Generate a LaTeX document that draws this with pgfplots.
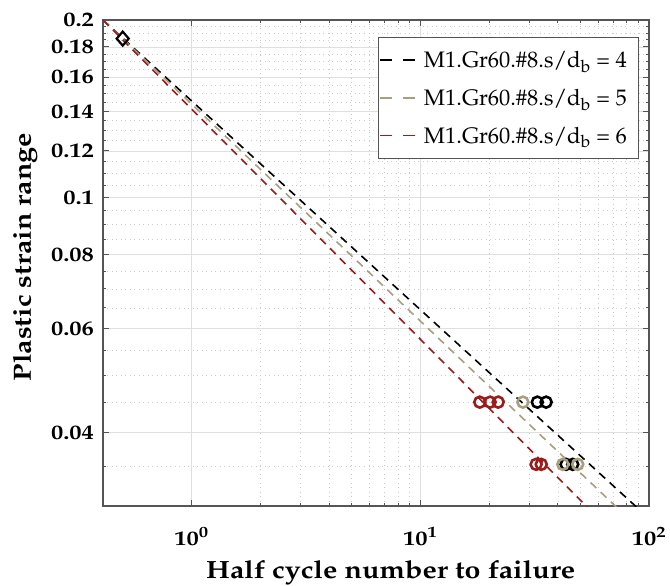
\documentclass[border=0pt]{standalone}
\usepackage[T1]{fontenc}
\usepackage{mathpazo}
\usepackage{graphicx}
\usepackage{pgfplots}
\pgfplotsset{compat=1.18}
\definecolor{ctan}{RGB}{168,158,128}
\definecolor{cred}{RGB}{155,28,28}
\definecolor{axgray}{RGB}{85,85,85}
\newcommand{\tl}[1]{\scalebox{1.2}[1]{\bfseries\boldmath #1}}
\newcommand{\bl}[1]{\scalebox{1.15}[1]{\bfseries #1}}
\begin{document}
\begin{tikzpicture}
\begin{axis}[
  at={(0,0)}, anchor=south west, scale only axis,
  width=546bp, height=486bp,
  xmode=log, ymode=log,
  xmin=0.41, xmax=100, ymin=0.03, ymax=0.2,
  xtick={1,10,100},
  xticklabel={\tl{10$^{\ifcase\ticknum\relax 0\or 1\or 2\fi}$}},
  ytick={0.04,0.06,0.08,0.1,0.12,0.14,0.16,0.18,0.2},
  yticklabel={\tl{\ifcase\ticknum\relax 0.04\or 0.06\or 0.08\or 0.1\or 0.12\or 0.14\or 0.16\or 0.18\or 0.2\fi}},
  minor ytick={0.035,0.045,0.05,0.055,0.065,0.07,0.075,0.085,0.09,0.095,0.105,0.11,0.115,0.125,0.13,0.135,0.145,0.15,0.155,0.165,0.17,0.175,0.185,0.19,0.195},
  grid=both,
  major grid style={solid, line width=0.7bp, gray!25},
  minor grid style={line width=0.8bp, gray!40, dash pattern=on 1bp off 3.5bp},
  axis line style={axgray, line width=1.2bp},
  tick style={axgray, line width=1bp},
  major tick length=6bp, minor tick length=3.5bp,
  tick align=inside,
  tick label style={font=\fontsize{20.5}{24}\selectfont},
  xticklabel style={anchor=base, yshift=-39bp},
  yticklabel style={xshift=-5.5bp},
  xlabel={\bl{Half cycle number to failure}},
  ylabel={\bl{Plastic strain range}},
  label style={font=\fontsize{25}{28}\selectfont},
  xlabel style={at={([yshift=-72bp]rel axis cs:0.527,0)}, anchor=base},
  ylabel style={at={([xshift=-78bp,yshift=6bp]rel axis cs:0,0.5)}, anchor=center},
  legend style={at={(rel axis cs:0,1)}, anchor=north west, xshift=275bp, yshift=-17bp,
    font=\fontsize{22.5}{24}\selectfont, draw=axgray, line width=0.8bp, fill=white,
    row sep=16bp, column sep=6bp, inner xsep=1bp, inner ysep=12bp},
  legend cell align=left,
  legend image code/.code={\draw[#1, dash pattern=on 12bp off 11bp] (0bp,0bp) -- (35bp,0bp);},
]
\addplot[black, line width=1.6bp, dash pattern=on 8bp off 6bp] coordinates {(0.41,0.2) (100,0.02858)};
\addlegendentry{M1.Gr60.\#8.s/d$_\mathrm{b}$ = 4\hspace{9bp}\mbox{}}
\addplot[ctan, line width=1.6bp, dash pattern=on 8bp off 6bp] coordinates {(0.41,0.2) (100,0.02648)};
\addlegendentry{M1.Gr60.\#8.s/d$_\mathrm{b}$ = 5\hspace{9bp}\mbox{}}
\addplot[cred, line width=1.6bp, dash pattern=on 8bp off 6bp] coordinates {(0.41,0.2) (100,0.02344)};
\addlegendentry{M1.Gr60.\#8.s/d$_\mathrm{b}$ = 6\hspace{9bp}\mbox{}}
\addplot[forget plot, only marks, mark=o, black, mark size=5.5bp, line width=2.6bp] coordinates {(32.5,0.045) (35.5,0.045) (43.4,0.0353) (46.4,0.0353)};
\addplot[forget plot, only marks, mark=o, ctan, mark size=5.5bp, line width=2.6bp] coordinates {(28.1,0.045) (42.0,0.0353) (48.8,0.0353)};
\addplot[forget plot, only marks, mark=o, cred, mark size=5.5bp, line width=2.6bp] coordinates {(18.2,0.045) (20.2,0.045) (21.9,0.045) (32.1,0.0353) (33.8,0.0353)};
\addplot[forget plot, only marks, mark=diamond, black, mark size=7bp, line width=2.2bp, mark options={xscale=1.15}] coordinates {(0.5,0.186)};
\end{axis}
\pgfresetboundingbox
\path (-103bp,-80bp) rectangle (567bp,506bp);
\end{tikzpicture}
\end{document}
